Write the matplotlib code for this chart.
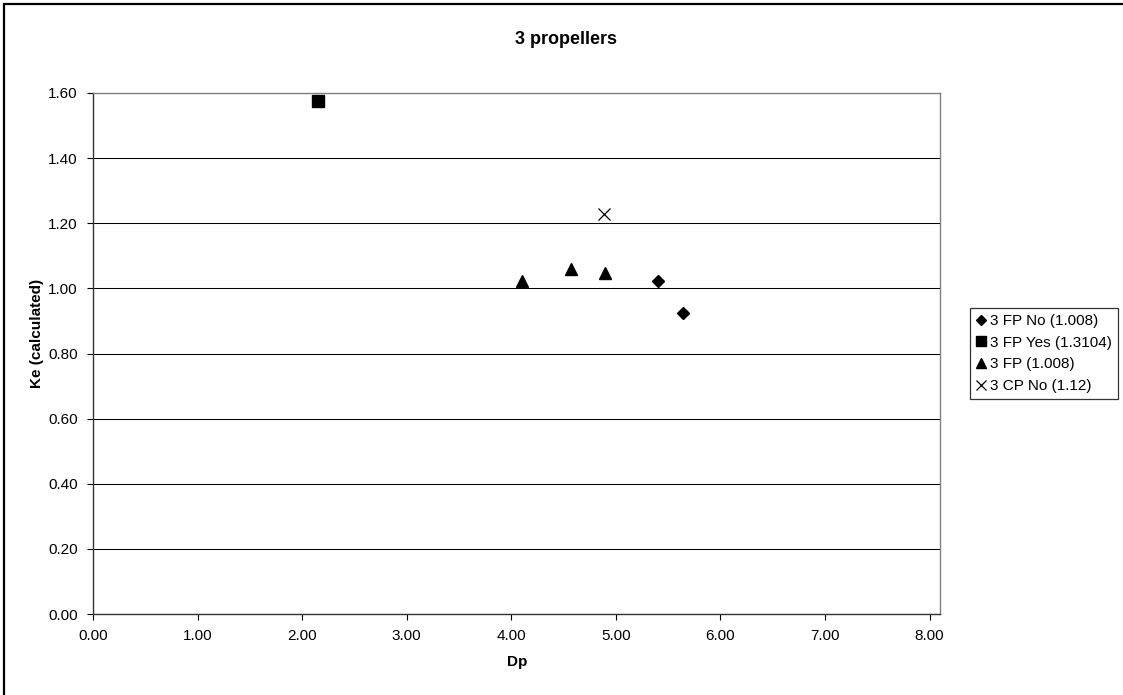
import matplotlib
matplotlib.use("Agg")
import matplotlib.pyplot as plt
from matplotlib.patches import Rectangle

plt.rcParams["font.family"] = ["Liberation Sans", "DejaVu Sans"]

# series
fp_no_x = [5.40, 5.64]
fp_no_y = [1.023, 0.923]
fp_yes_x = [2.15]
fp_yes_y = [1.575]
fp_x = [4.10, 4.57, 4.90]
fp_y = [1.023, 1.059, 1.048]
cp_no_x = [4.885]
cp_no_y = [1.228]

labels = ["3 FP No (1.008)", "3 FP Yes (1.3104)", "3 FP (1.008)", "3 CP No (1.12)"]
x_ticks = [0, 1, 2, 3, 4, 5, 6, 7, 8]
y_ticks = [0.0, 0.2, 0.4, 0.6, 0.8, 1.0, 1.2, 1.4, 1.6]

W, H = 1123, 695
fig = plt.figure(figsize=(W / 100, H / 100), dpi=100)
ax = fig.add_axes([93 / W, 1 - 614 / H, (940 - 93) / W, (614 - 93) / H])

ax.plot(fp_no_x, fp_no_y, linestyle="none", marker="D", ms=6.2, color="black", label=labels[0])
ax.plot(fp_yes_x, fp_yes_y, linestyle="none", marker="s", ms=8.6, color="black", label=labels[1])
ax.plot(fp_x, fp_y, linestyle="none", marker="^", ms=8.6, color="black", label=labels[2])
ax.plot(cp_no_x, cp_no_y, linestyle="none", marker="x", ms=8.6, mew=0.9, color="black", label=labels[3])

ax.set_xlim(0, 8.1)
ax.set_ylim(0, 1.6)
ax.set_xticks(x_ticks)
ax.set_yticks(y_ticks)
ax.set_xticklabels([f"{v:.2f}" for v in x_ticks])
ax.set_yticklabels([f"{v:.2f}" for v in y_ticks])
ax.tick_params(direction="out", length=4, width=0.8, color="black", labelsize=11, pad=7)

ax.yaxis.grid(True, color="black", linewidth=0.75)
ax.set_axisbelow(True)
for side in ["left", "bottom"]:
    ax.spines[side].set_color("#333333")
    ax.spines[side].set_linewidth(1.0)
for side in ["top", "right"]:
    ax.spines[side].set_color("#808080")
    ax.spines[side].set_linewidth(1.0)

fig.text(566 / W, 1 - 39 / H, "3 propellers", ha="center", va="center", fontsize=13, fontweight="bold")
fig.text(517 / W, 1 - 662 / H, "Dp", ha="center", va="center", fontsize=11, fontweight="bold")
fig.text(37 / W, 1 - 333 / H, "Ke (calculated)", ha="center", va="center", rotation=90,
         fontsize=11, fontweight="bold")

leg = ax.legend(loc="upper left", bbox_to_anchor=(970 / W, 1 - 308 / H), bbox_transform=fig.transFigure,
                borderaxespad=0, frameon=True, fancybox=False, shadow=False, fontsize=11,
                handlelength=0.7, handletextpad=0.2, labelspacing=0.5, borderpad=0.4,
                markerscale=0.85)
leg.get_frame().set_edgecolor("black")
leg.get_frame().set_linewidth(0.9)

# outer chart border (only left and top visible in the reference)
fig.patches.append(Rectangle((4 / W, -0.1), 1.2, 1.1 - 4 / H, transform=fig.transFigure,
                             fill=False, edgecolor="black", linewidth=1.6, clip_on=False))

fig.savefig("out.png", dpi=100)
